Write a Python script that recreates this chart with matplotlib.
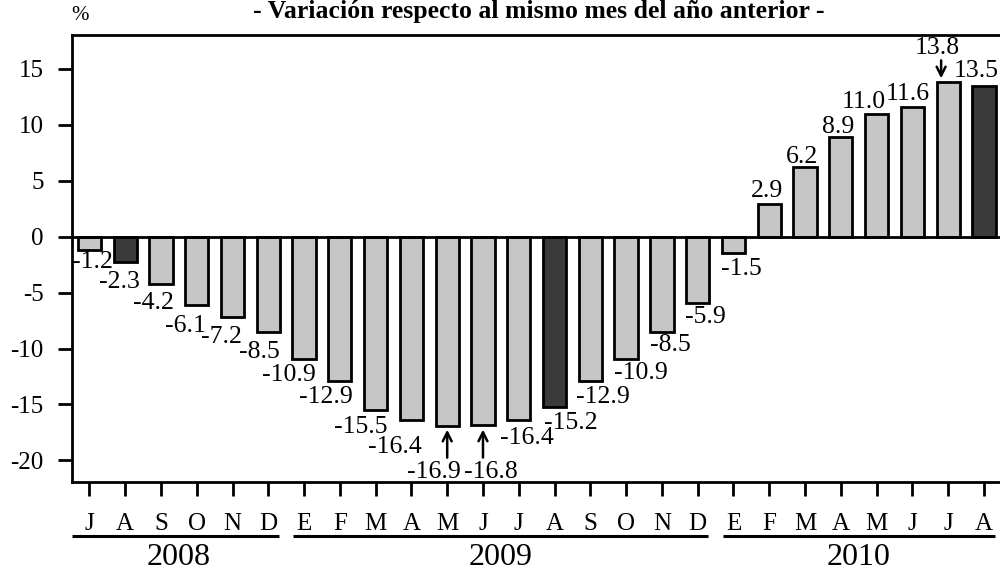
import matplotlib
matplotlib.use('Agg')
import matplotlib.pyplot as plt
from matplotlib.transforms import offset_copy, blended_transform_factory

# ---------------- data ----------------
months = ['J', 'A', 'S', 'O', 'N', 'D',
          'E', 'F', 'M', 'A', 'M', 'J', 'J', 'A', 'S', 'O', 'N', 'D',
          'E', 'F', 'M', 'A', 'M', 'J', 'J', 'A']
values = [-1.2, -2.3, -4.2, -6.1, -7.2, -8.5,
          -10.9, -12.9, -15.5, -16.4, -16.9, -16.8, -16.4, -15.2, -12.9, -10.9, -8.5, -5.9,
          -1.5, 2.9, 6.2, 8.9, 11.0, 11.6, 13.8, 13.5]
years = ['2008', '2009', '2010']
year_counts = [6, 12, 8]
highlight_idx = [1, 13, 25]          # August bars (dark)
yticks = [-20, -15, -10, -5, 0, 5, 10, 15]
title = '- Variación respecto al mismo mes del año anterior -'

# label offsets (pixels, dx right, dy down) from bar end
label_off = [(3, 12), (-6, 20), (-8, 19), (-11, 21), (-11, 20), (-9, 20),
             (-15, 16), (-14, 16), (-15, 17), (-17, 27), (-13, 46), (8, 47),
             (8, 18), (16, 16), (13, 16), (15, 14), (8, 13), (8, 14),
             (8, 16), (-2, -13), (-3, -10), (-3, -10), (-13, -12), (-5, -13),
             (-11, -34), (-8, -15)]
# arrows: index -> (dx, tail_dy, tip_dy) pixels
arrows = {10: (0, 32, 4), 11: (0, 33, 5), 24: (-7, -22, -4)}

plt.rcParams['font.family'] = ['Liberation Serif', 'DejaVu Serif']
plt.rcParams['axes.unicode_minus'] = False

W, H = 1000, 571
fig = plt.figure(figsize=(W / 100, H / 100), dpi=100)
ax_left, ax_right = 71.5, 1001.8
ax_top, ax_bot = 35, 482
ax = fig.add_axes([ax_left / W, 1 - ax_bot / H, (ax_right - ax_left) / W, (ax_bot - ax_top) / H])

x = list(range(len(values)))
colors = ['#3a3a3a' if i in highlight_idx else '#c6c6c6' for i in x]
ax.bar(x, values, width=0.65, color=colors, edgecolor='black', linewidth=2, zorder=2)
ax.axhline(0, color='black', linewidth=2, zorder=3)

ax.set_xlim(-0.5, 25.5)
ax.set_ylim(-21.94, 18.04)
ax.set_yticks(yticks)
ax.set_yticklabels([str(t) for t in yticks])
ax.set_xticks(x)
ax.set_xticklabels(months)
ax.tick_params(axis='both', direction='out', length=10, width=2, labelsize=18, color='black')
ax.tick_params(axis='x', pad=12)
ax.tick_params(axis='y', pad=10, labelsize=18)
for s in ['left', 'top', 'bottom']:
    ax.spines[s].set_linewidth(2)
ax.spines['right'].set_visible(False)

px2pt = 72 / 100
for i, v in enumerate(values):
    dx, dy = label_off[i]
    tr = offset_copy(ax.transData, fig=fig, x=dx * px2pt, y=-dy * px2pt, units='points')
    ax.text(i, v, f'{v:.1f}', transform=tr, ha='center', va='center', fontsize=18.5, zorder=4)

for i, (dx, tail, tip) in arrows.items():
    v = values[i]
    tr_tip = offset_copy(ax.transData, fig=fig, x=dx * px2pt, y=-tip * px2pt, units='points')
    tr_tail = offset_copy(ax.transData, fig=fig, x=dx * px2pt, y=-tail * px2pt, units='points')
    ax.annotate('', xy=(i, v), xycoords=tr_tip, xytext=(i, v), textcoords=tr_tail,
                arrowprops=dict(arrowstyle='->', lw=1.8, color='black',
                                mutation_scale=16, shrinkA=0, shrinkB=0))

# year brackets
trb = blended_transform_factory(ax.transData, ax.transAxes)
start = 0
for k, (yr, n) in enumerate(zip(years, year_counts)):
    first, last = start, start + n - 1
    x0 = first - 0.5 + (0.0 if k == 0 else 0.2)
    x1 = last + 0.5 - 0.2
    ax.plot([x0, x1], [-0.120, -0.120], transform=trb, color='black', lw=2.2,
            clip_on=False, solid_capstyle='butt')
    ax.text((first + last) / 2, -0.168, yr, transform=trb, ha='center', va='center',
            fontsize=23)
    start += n

fig.text(539 / W, 1 - 18 / H, title, ha='center', va='baseline', fontsize=18.5,
         fontweight='bold')
fig.text(80 / W, 1 - 15 / H, '%', ha='center', va='center', fontsize=15)

fig.savefig('out.png', dpi=100)
